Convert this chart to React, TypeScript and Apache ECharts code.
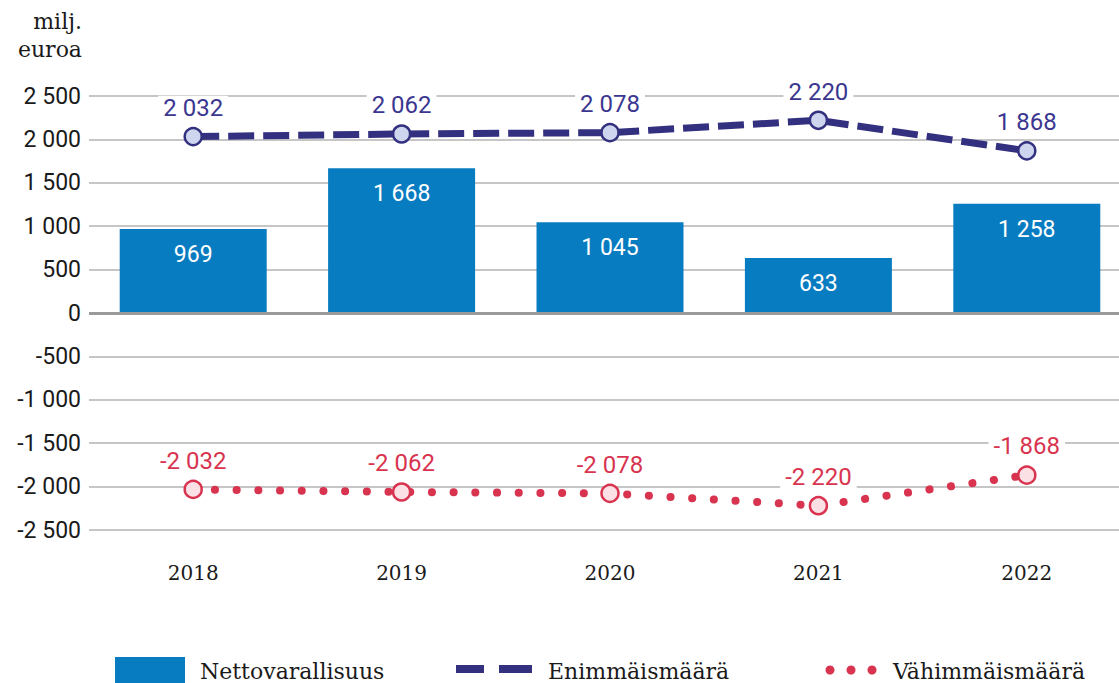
import React, { useEffect, useRef } from "react";
import * as echarts from "echarts";

const years = ["2018", "2019", "2020", "2021", "2022"];
const netAssets = [969, 1668, 1045, 633, 1258];
const maxAmount = [2032, 2062, 2078, 2220, 1868];
const minAmount = [-2032, -2062, -2078, -2220, -1868];
const legendNames = ["Nettovarallisuus", "Enimmäismäärä", "Vähimmäismäärä"];
const unitLines = ["milj.", "euroa"];

const fmt = (v: number) => {
  const s = Math.abs(Math.round(v)).toString().replace(/\B(?=(\d{3})+(?!\d))/g, " ");
  return (v < 0 ? "-" : "") + s;
};

const BAR = "#087cc1";
const BLUE = "#33307f";
const RED = "#d8344f";
const SANS = "Roboto";
const SERIF = "DejaVu Serif";

export default function App() {
  const ref = useRef<HTMLDivElement>(null);
  useEffect(() => {
    document.body.style.margin = "0";
    document.body.style.overflow = "hidden";
    const chart = echarts.init(ref.current!, null, { renderer: "svg" });
    chart.setOption({
      animation: false,
      backgroundColor: "#ffffff",
      grid: { left: 89, top: 96, right: 0, height: 434, containLabel: false },
      xAxis: {
        type: "category",
        data: years,
        axisLine: { show: false },
        axisTick: { show: false },
        axisLabel: { color: "#1a1a1a", fontSize: 20, fontFamily: SERIF, margin: 33 },
      },
      yAxis: {
        type: "value",
        min: -2500,
        max: 2500,
        interval: 500,
        axisLine: { show: false },
        axisTick: { show: false },
        splitLine: { lineStyle: { color: "#b3b3b3", width: 1.5 } },
        axisLabel: {
          color: "#1a1a1a",
          fontSize: 23,
          fontFamily: SANS,
          margin: 8,
          formatter: (v: number) => fmt(v),
        },
      },
      series: [
        {
          name: legendNames[0],
          type: "bar",
          data: netAssets,
          barWidth: 147,
          itemStyle: { color: BAR },
          label: {
            show: true,
            position: "insideTop",
            distance: 14,
            color: "#ffffff",
            fontSize: 23,
            fontFamily: SANS,
            formatter: (p: any) => fmt(p.value),
          },
          markLine: {
            silent: true,
            symbol: "none",
            label: { show: false },
            lineStyle: { color: "#9a9a9a", width: 3, type: "solid" },
            data: [{ yAxis: 0 }],
          },
        },
        {
          name: legendNames[1],
          type: "line",
          data: maxAmount,
          z: 5,
          lineStyle: { color: BLUE, width: 7, type: [26, 9] },
          symbol: "circle",
          symbolSize: 17,
          itemStyle: { color: "#cdd6ee", borderColor: BLUE, borderWidth: 2.5 },
          label: {
            show: true,
            position: "top",
            distance: 7,
            color: "#3b3690",
            fontSize: 24,
            fontFamily: SANS,
            backgroundColor: "#ffffff",
            padding: [0, 5],
            formatter: (p: any) => fmt(p.value),
          },
        },
        {
          name: legendNames[2],
          type: "line",
          data: minAmount,
          z: 5,
          lineStyle: { color: RED, width: 8, type: [0.1, 21.6], cap: "round" },
          symbol: "circle",
          symbolSize: 17,
          itemStyle: { color: "#fbe1e6", borderColor: RED, borderWidth: 2.5 },
          label: {
            show: true,
            position: "top",
            distance: 7,
            color: RED,
            fontSize: 24,
            fontFamily: SANS,
            backgroundColor: "#ffffff",
            padding: [0, 5],
            formatter: (p: any) => fmt(p.value),
          },
        },
      ],
      graphic: [
        {
          type: "text",
          x: 82,
          y: 21,
          style: { text: unitLines[0], textAlign: "right", textVerticalAlign: "middle", fontSize: 22, fontFamily: SERIF, fill: "#1a1a1a" },
        },
        {
          type: "text",
          x: 82,
          y: 49,
          style: { text: unitLines[1], textAlign: "right", textVerticalAlign: "middle", fontSize: 22, fontFamily: SERIF, fill: "#1a1a1a" },
        },
        { type: "rect", shape: { x: 115, y: 657, width: 70, height: 27 }, style: { fill: BAR } },
        {
          type: "text",
          x: 200,
          y: 671,
          style: { text: legendNames[0], textVerticalAlign: "middle", fontSize: 22, fontFamily: SERIF, fill: "#1a1a1a" },
        },
        { type: "rect", shape: { x: 456, y: 665, width: 28, height: 8 }, style: { fill: BLUE } },
        { type: "rect", shape: { x: 499, y: 665, width: 33, height: 8 }, style: { fill: BLUE } },
        {
          type: "text",
          x: 548,
          y: 671,
          style: { text: legendNames[1], textVerticalAlign: "middle", fontSize: 22, fontFamily: SERIF, fill: "#1a1a1a" },
        },
        { type: "circle", shape: { cx: 830, cy: 670, r: 4.5 }, style: { fill: RED } },
        { type: "circle", shape: { cx: 851, cy: 670, r: 4.5 }, style: { fill: RED } },
        { type: "circle", shape: { cx: 872, cy: 670, r: 4.5 }, style: { fill: RED } },
        {
          type: "text",
          x: 893,
          y: 671,
          style: { text: legendNames[2], textVerticalAlign: "middle", fontSize: 22, fontFamily: SERIF, fill: "#1a1a1a" },
        },
      ],
    });
    return () => chart.dispose();
  }, []);
  return <div ref={ref} style={{ position: "fixed", left: 0, top: 0, width: 1131, height: 683 }} />;
}
